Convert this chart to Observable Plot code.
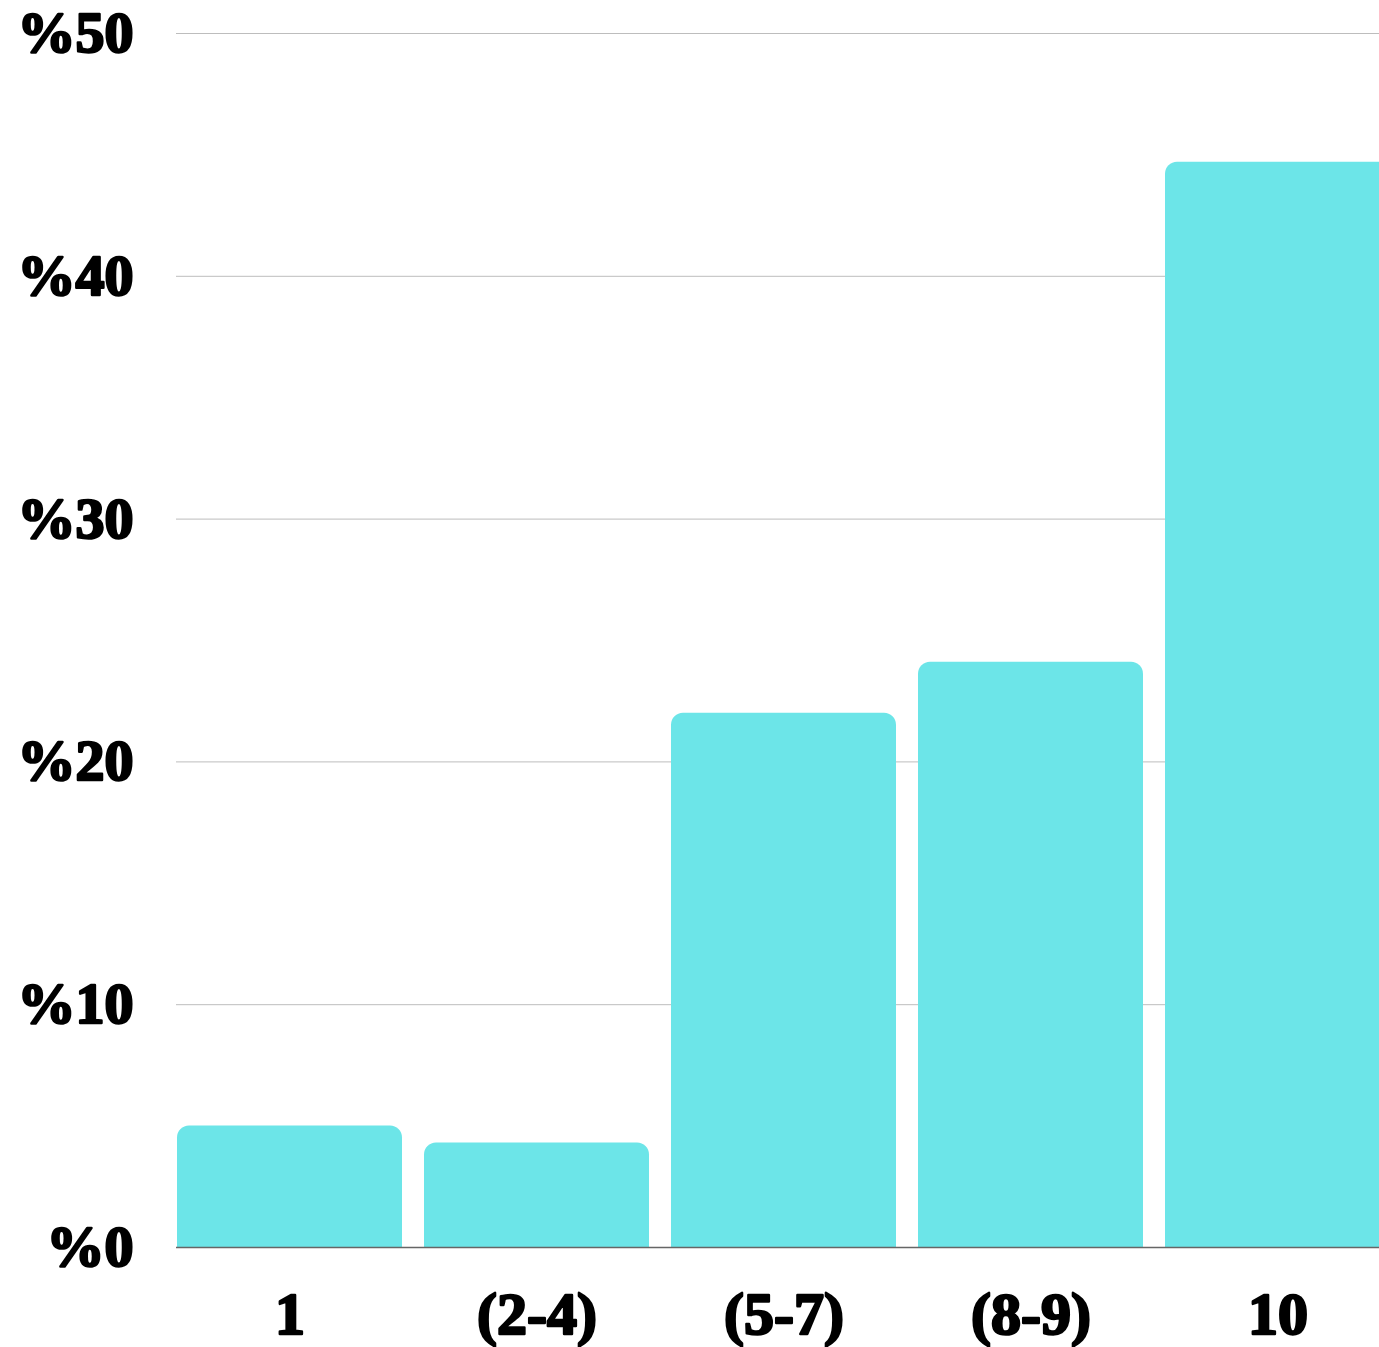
<!DOCTYPE html>
<html>
<head>
<meta charset="utf-8">
<script src="https://cdn.jsdelivr.net/npm/d3@7"></script>
<script src="https://cdn.jsdelivr.net/npm/@observablehq/plot@0.6"></script>
<style>
  html, body { margin: 0; padding: 0; background: #fff; overflow: hidden; }
  #chart { width: 1379px; height: 1347px; overflow: hidden; }
  #chart svg { display: block; max-width: none !important; }
</style>
</head>
<body>
<div id="chart"></div>
<script>
const categories = ["1", "(2-4)", "(5-7)", "(8-9)", "10"];
const values = [5.0, 4.3, 22.0, 24.1, 44.7];
const yTicks = [0, 10, 20, 30, 40, 50];

const data = categories.map((c, i) => ({category: c, value: values[i]}));
const font = "'Liberation Serif', 'DejaVu Serif', serif";

const chart = Plot.plot({
  width: 1391,
  height: 1347,
  marginLeft: 176,
  marginRight: 0,
  marginTop: 33,
  marginBottom: 100,
  style: {fontFamily: font, background: "#fff", overflow: "visible", maxWidth: "none"},
  x: {domain: categories, paddingInner: 0.09, paddingOuter: 0, label: null},
  y: {domain: [0, 50], label: null},
  marks: [
    Plot.gridY(yTicks, {stroke: "#bdbdbd", strokeOpacity: 1, strokeWidth: 1}),
    Plot.barY(data, {x: "category", y: "value", fill: "#6ce5e8", ry1: 12}),
    Plot.ruleY([0], {stroke: "#666", strokeWidth: 1.5}),
    Plot.axisY(yTicks, {
      tickSize: 0, tickPadding: 43, tickFormat: d => "%" + d,
      fontSize: 58, fontWeight: "bold", fill: "#000",
      textStroke: "#000", textStrokeWidth: 2.5, label: null
    }),
    Plot.axisX({
      tickSize: 0, tickPadding: 44,
      fontSize: 60, fontWeight: "bold", fill: "#000",
      textStroke: "#000", textStrokeWidth: 2.5, label: null
    })
  ]
});
document.getElementById("chart").appendChild(chart);
</script>
</body>
</html>
